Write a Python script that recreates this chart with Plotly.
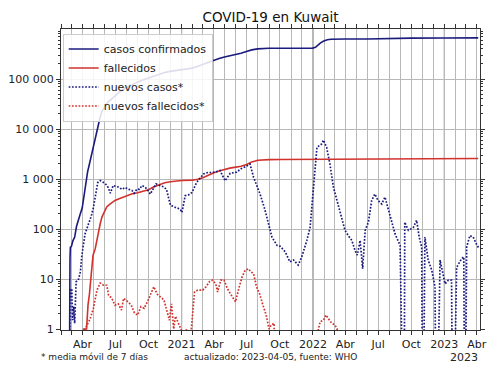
import pandas as pd
import plotly.graph_objects as go

# ---------------- data ----------------
cases_dates = ["2020-02-23", "2020-02-24", "2020-02-25", "2020-02-26", "2020-02-27", "2020-03-01", "2020-03-05",
               "2020-03-10", "2020-03-15", "2020-03-20", "2020-03-25", "2020-03-31", "2020-04-05", "2020-04-10",
               "2020-04-15", "2020-04-20", "2020-04-25", "2020-04-30", "2020-05-05", "2020-05-10", "2020-05-15",
               "2020-05-20", "2020-05-25", "2020-05-31", "2020-06-10", "2020-06-20", "2020-06-30", "2020-07-15",
               "2020-07-31", "2020-08-15", "2020-08-31", "2020-09-15", "2020-09-30", "2020-10-15", "2020-10-31",
               "2020-11-15", "2020-11-30", "2020-12-15", "2020-12-31", "2021-01-15", "2021-01-31", "2021-02-15",
               "2021-02-28", "2021-03-15", "2021-03-31", "2021-04-15", "2021-04-30", "2021-05-15", "2021-05-31",
               "2021-06-15", "2021-06-30", "2021-07-15", "2021-07-31", "2021-08-15", "2021-08-31", "2021-09-30",
               "2021-10-31", "2021-11-30", "2021-12-31", "2022-01-08", "2022-01-15", "2022-01-22", "2022-01-31",
               "2022-02-10", "2022-02-20", "2022-02-28", "2022-03-31", "2022-05-31", "2022-06-30", "2022-07-31",
               "2022-08-31", "2022-09-30", "2022-12-31", "2023-04-05"]
cases_values = [0, 5, 11, 26, 43, 45, 58,
                69, 112, 159, 195, 266, 479, 993,
                1405, 1995, 2892, 4024, 5278, 8688, 12860,
                17568, 22575, 27043, 34432, 39650, 46195, 56877,
                67448, 77470, 86478, 95541, 104568, 114744, 125337,
                135000, 142195, 147000, 150584, 155000, 165000, 180000,
                195000, 215000, 236000, 256000, 275000, 289000, 303000,
                327000, 353000, 382000, 400000, 409000, 411500, 412500,
                413000, 413500, 415000, 430000, 480000, 530000, 575000,
                610000, 622000, 627000, 630000, 633000, 640000, 651000,
                656000, 658000, 661000, 663000]

deaths_dates = ["2020-04-03", "2020-04-04", "2020-04-12", "2020-04-16", "2020-04-20", "2020-04-25", "2020-04-30",
                "2020-05-06", "2020-05-10", "2020-05-15", "2020-05-20", "2020-05-25", "2020-05-31", "2020-06-07",
                "2020-06-15", "2020-06-30", "2020-07-15", "2020-07-31", "2020-08-15", "2020-09-01", "2020-09-15",
                "2020-10-01", "2020-10-15", "2020-11-01", "2020-11-15", "2020-12-01", "2020-12-15", "2021-01-01",
                "2021-01-31", "2021-02-15", "2021-03-01", "2021-03-15", "2021-04-01", "2021-04-15", "2021-05-01",
                "2021-05-15", "2021-06-01", "2021-06-15", "2021-07-01", "2021-07-15", "2021-08-01", "2021-08-15",
                "2021-09-01", "2021-10-01", "2022-01-01", "2022-02-01", "2022-03-01", "2022-04-01", "2023-04-05"]
deaths_values = [0, 1, 1, 3, 5, 15, 30,
                 40, 58, 96, 129, 175, 220, 275,
                 310, 373, 413, 460, 500, 530, 565,
                 610, 690, 780, 840, 880, 915, 934,
                 950, 985, 1060, 1190, 1330, 1450, 1560,
                 1650, 1730, 1800, 1960, 2200, 2370, 2425,
                 2445, 2455, 2465, 2495, 2545, 2555, 2570]

new_cases_dates = ["2020-02-23", "2020-02-24", "2020-02-26", "2020-02-28", "2020-03-02", "2020-03-04", "2020-03-07",
                   "2020-03-10", "2020-03-14", "2020-03-20", "2020-03-26", "2020-03-30", "2020-04-04", "2020-04-08",
                   "2020-04-18", "2020-04-25", "2020-05-01", "2020-05-08", "2020-05-13", "2020-05-20", "2020-05-27",
                   "2020-06-03", "2020-06-11", "2020-06-17", "2020-06-25", "2020-07-09", "2020-07-20", "2020-07-28",
                   "2020-08-08", "2020-08-16", "2020-08-22", "2020-08-30", "2020-09-06", "2020-09-13", "2020-09-20",
                   "2020-09-27", "2020-10-06", "2020-10-14", "2020-10-22", "2020-11-01", "2020-11-12", "2020-11-20",
                   "2020-12-01", "2020-12-15", "2020-12-28", "2021-01-02", "2021-01-11", "2021-01-20", "2021-01-30",
                   "2021-02-12", "2021-02-22", "2021-03-03", "2021-03-15", "2021-03-26", "2021-04-08", "2021-04-18",
                   "2021-05-02", "2021-05-16", "2021-06-03", "2021-06-15", "2021-06-27", "2021-07-10", "2021-07-20",
                   "2021-08-07", "2021-08-20", "2021-08-30", "2021-09-09", "2021-09-23", "2021-10-02", "2021-10-16",
                   "2021-10-29", "2021-11-08", "2021-11-21", "2021-12-01", "2021-12-15", "2021-12-24", "2022-01-02",
                   "2022-01-08", "2022-01-12", "2022-01-25", "2022-01-30", "2022-02-08", "2022-02-17", "2022-02-27",
                   "2022-03-12", "2022-03-22", "2022-03-31", "2022-04-09", "2022-04-19", "2022-04-28", "2022-05-04",
                   "2022-05-12", "2022-05-19", "2022-05-26", "2022-06-04", "2022-06-13", "2022-06-22", "2022-07-01",
                   "2022-07-11", "2022-07-20", "2022-08-03", "2022-08-17", "2022-08-31", "2022-09-05", "2022-09-11",
                   "2022-09-13", "2022-09-23", "2022-10-07", "2022-10-16", "2022-10-23", "2022-10-30", "2022-11-02",
                   "2022-11-04", "2022-11-08", "2022-11-17", "2022-11-27", "2022-12-06", "2022-12-10", "2022-12-20",
                   "2023-01-03", "2023-01-12", "2023-01-21", "2023-01-25", "2023-02-04", "2023-02-18", "2023-02-24",
                   "2023-02-27", "2023-03-04", "2023-03-13", "2023-03-22", "2023-03-31", "2023-04-07"]
new_cases_values = [0, 0.7, 3.7, 6.1, 6.4, 1.5, 2.8,
                    1.3, 8.8, 9.5, 14, 30, 59, 81,
                    130, 180, 270, 500, 850, 930, 880,
                    810, 680, 520, 740, 690, 620, 680,
                    620, 590, 520, 630, 620, 740, 700,
                    630, 500, 650, 800, 740, 700, 620,
                    300, 270, 250, 215, 465, 480, 540,
                    860, 1050, 1260, 1350, 1350, 1400, 1470,
                    920, 1300, 1370, 1600, 1750, 2000, 1080,
                    500, 250, 130, 69, 47, 45, 35,
                    22, 24, 19, 28, 59, 108, 680,
                    2500, 4300, 5000, 6000, 4300, 2000, 680,
                    315, 174, 94, 74, 59, 37, 30,
                    59, 16, 94, 137, 370, 500, 370,
                    315, 435, 174, 80, 47, 0, 0,
                    137, 94, 108, 150, 69, 44, 0,
                    0, 69, 24, 15, 7, 0, 24,
                    8, 9.5, 9.5, 0, 17, 25.6, 27.6,
                    0, 44, 74, 69, 50, 41]

new_deaths_dates = ["2020-04-01", "2020-04-08", "2020-04-22", "2020-05-01", "2020-05-11", "2020-05-20", "2020-05-29",
                    "2020-06-07", "2020-06-12", "2020-06-21", "2020-06-30", "2020-07-09", "2020-07-18", "2020-07-24",
                    "2020-08-05", "2020-08-14", "2020-08-23", "2020-09-01", "2020-09-10", "2020-09-19", "2020-09-28",
                    "2020-10-07", "2020-10-16", "2020-10-25", "2020-11-03", "2020-11-13", "2020-11-22", "2020-11-28",
                    "2020-12-04", "2020-12-10", "2020-12-15", "2020-12-24", "2020-12-29", "2021-01-08", "2021-01-14",
                    "2021-01-20", "2021-01-28", "2021-02-06", "2021-02-15", "2021-03-01", "2021-03-10", "2021-03-19",
                    "2021-03-28", "2021-04-06", "2021-04-11", "2021-04-20", "2021-04-29", "2021-05-08", "2021-05-17",
                    "2021-05-26", "2021-05-31", "2021-06-09", "2021-06-18", "2021-06-27", "2021-07-06", "2021-07-12",
                    "2021-07-20", "2021-07-28", "2021-08-06", "2021-08-15", "2021-08-24", "2021-09-01", "2021-09-07",
                    "2021-09-15", "2021-09-20", "2022-01-10", "2022-01-16", "2022-01-21", "2022-01-30", "2022-02-06",
                    "2022-02-13", "2022-02-22", "2022-03-03", "2022-03-09", "2022-03-15", "2023-04-05"]
new_deaths_values = [0, 1, 1.6, 2.6, 6, 8.3, 7.5,
                     7.5, 4.8, 4.1, 3, 3.2, 2.4, 4.1,
                     3.5, 3, 2.1, 1.9, 2.8, 2.6, 3.5,
                     5.1, 7, 5, 4.4, 3.8, 2.2, 1.5,
                     3.2, 1, 1.8, 1.3, 1, 0.7, 1.0,
                     0.4, 1, 5.5, 6, 6, 7, 8.8,
                     9.5, 8, 5.5, 9.5, 9.5, 6.5, 5,
                     3.8, 3.5, 6.5, 11, 15, 16, 14,
                     12.8, 7, 5, 3, 1.9, 1, 1.2,
                     1.3, 0, 0, 1, 1.4, 1.5, 1.9,
                     1.6, 1.3, 1.2, 1, 0, 0]

x_tick_dates = ["2020-04-01", "2020-07-01", "2020-10-01", "2021-01-01", "2021-04-01", "2021-07-01", "2021-10-01",
                "2022-01-01", "2022-04-01", "2022-07-01", "2022-10-01", "2023-01-01", "2023-04-01"]
x_tick_labels = ["Abr", "Jul", "Oct", "2021", "Abr", "Jul", "Oct", "2022", "Abr", "Jul", "Oct", "2023", "Abr"]
year_starts = ["2021-01-01", "2022-01-01", "2023-01-01"]
y_tick_vals = [1, 10, 100, 1000, 10000, 100000]
y_tick_labels = ["1", "10", "100", "1 000", "10 000", "100 000"]

series_names = ["casos confirmados", "fallecidos", "nuevos casos*", "nuevos fallecidos*"]
title_text = "COVID-19 en Kuwait"
footnote_left = "* media móvil de 7 días"
footnote_mid = "actualizado: 2023-04-05, fuente: WHO"
offset_label = "2023"

# ---------------- styling ----------------
NAVY = "#1b1b7e"
RED = "#d2322d"
FONT = "DejaVu Sans"
GRID = "#b8b8b8"
YEARGRID = "#858585"


def log_safe(values):
    # zeros cannot be drawn on a log axis: send them far below the visible range
    return [v if v > 0 else 1e-3 for v in values]


fig = go.Figure()
fig.add_trace(go.Scatter(x=cases_dates, y=log_safe(cases_values), mode="lines", name=series_names[0],
                         line=dict(color=NAVY, width=1.6)))
fig.add_trace(go.Scatter(x=deaths_dates, y=log_safe(deaths_values), mode="lines", name=series_names[1],
                         line=dict(color=RED, width=1.6)))
fig.add_trace(go.Scatter(x=new_cases_dates, y=log_safe(new_cases_values), mode="lines", name=series_names[2],
                         line=dict(color=NAVY, width=1.7, dash="1.7px,1.6px")))
fig.add_trace(go.Scatter(x=new_deaths_dates, y=log_safe(new_deaths_values), mode="lines", name=series_names[3],
                         line=dict(color=RED, width=1.7, dash="1.7px,1.6px")))

month_ticks = [d.strftime("%Y-%m-%d") for d in pd.date_range("2020-02-01", "2023-04-01", freq="MS")]
minor_y = [m * 10 ** k for k in range(0, 6) for m in range(2, 10)]

for ys in year_starts:
    fig.add_shape(type="line", xref="x", yref="paper", x0=ys, x1=ys, y0=0, y1=1,
                  line=dict(color=YEARGRID, width=1.2), layer="below")

fig.update_layout(
    width=500, height=375,
    margin=dict(l=61, r=20, t=29, b=45, autoexpand=False),
    paper_bgcolor="white", plot_bgcolor="white",
    font=dict(family=FONT, size=11, color="#222"),
    title=dict(text=title_text, xref="paper", x=0.5, xanchor="center", y=0.955, yanchor="middle",
               font=dict(family=FONT, size=13.5, color="#111")),
    showlegend=True,
    legend=dict(x=0.004, y=0.985, xanchor="left", yanchor="top",
                bgcolor="rgba(255,255,255,0.85)", bordercolor="#cccccc", borderwidth=1,
                font=dict(family=FONT, size=11, color="#222"), itemwidth=30,
                tracegroupgap=0),
    xaxis=dict(type="date", range=["2020-02-01", "2023-04-10"], automargin=False,
               tickmode="array", tickvals=x_tick_dates, ticktext=x_tick_labels,
               ticks="outside", ticklen=4, tickwidth=1, tickcolor="#333",
               showgrid=True, gridcolor=GRID, gridwidth=1,
               showline=True, linecolor="#333", linewidth=1, mirror="ticks",
               tickfont=dict(family=FONT, size=11, color="#222"),
               minor=dict(tickmode="array", tickvals=month_ticks, ticks="outside", ticklen=4,
                          tickcolor="#333", showgrid=True, gridcolor=GRID, gridwidth=1),
               zeroline=False),
    yaxis=dict(type="log", range=[-0.02, 6.0], automargin=False,
               tickmode="array", tickvals=y_tick_vals, ticktext=y_tick_labels,
               ticks="outside", ticklen=4, tickwidth=1, tickcolor="#333",
               showgrid=True, gridcolor=GRID, gridwidth=1,
               showline=True, linecolor="#333", linewidth=1, mirror="ticks",
               tickfont=dict(family=FONT, size=11, color="#222"),
               minor=dict(tickmode="array", tickvals=minor_y, ticks="outside", ticklen=2,
                          tickcolor="#333", showgrid=False),
               zeroline=False),
)

fig.add_annotation(text=footnote_left, xref="paper", yref="paper", x=-0.052, y=-0.09,
                   xanchor="left", yanchor="middle", showarrow=False,
                   font=dict(family=FONT, size=9, color="#222"))
fig.add_annotation(text=footnote_mid, xref="paper", yref="paper", x=0.5, y=-0.09,
                   xanchor="center", yanchor="middle", showarrow=False,
                   font=dict(family=FONT, size=9, color="#222"))
fig.add_annotation(text=offset_label, xref="paper", yref="paper", x=1.0, y=-0.09,
                   xanchor="right", yanchor="middle", showarrow=False,
                   font=dict(family=FONT, size=11, color="#222"))

fig.write_html("out.html", config={"displayModeBar": False},
               post_script="document.body.style.margin='0';")
